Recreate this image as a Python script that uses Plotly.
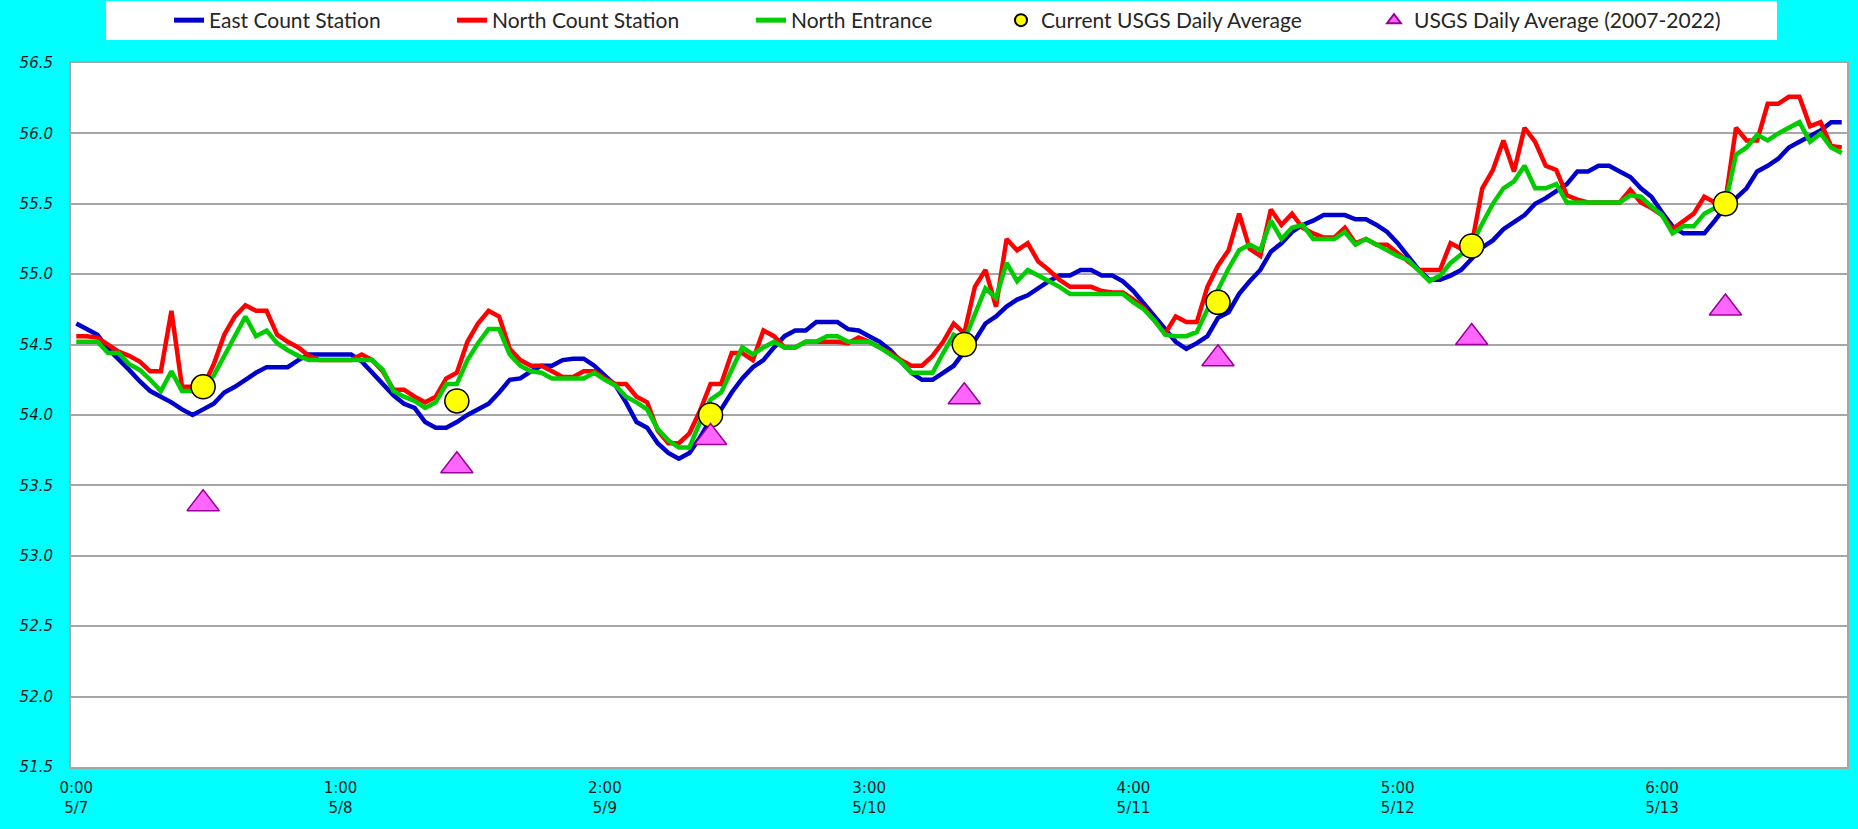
import plotly.graph_objects as go

# ---------------- data (hourly, 5/7 0:00 .. 5/13 23:00) ----------------
hours = list(range(168))

east_count = [
    54.65, 54.61, 54.57, 54.47, 54.40, 54.32, 54.24, 54.17, 54.13, 54.09, 54.04, 54.00,
    54.04, 54.08, 54.16, 54.20, 54.25, 54.30, 54.34, 54.34, 54.34, 54.39, 54.43, 54.43,
    54.43, 54.43, 54.43, 54.38, 54.30, 54.22, 54.14, 54.08, 54.05, 53.95, 53.91, 53.91,
    53.95, 54.00, 54.04, 54.08, 54.16, 54.25,
    54.26, 54.31, 54.35, 54.35, 54.39, 54.40, 54.40, 54.35, 54.28, 54.21, 54.09, 53.95,
    53.91, 53.80, 53.73, 53.69, 53.73, 53.84, 53.97, 54.04, 54.16, 54.26, 54.34, 54.39,
    54.48, 54.56, 54.60, 54.60, 54.66, 54.66, 54.66, 54.61, 54.60, 54.56, 54.52, 54.46,
    54.38, 54.30, 54.25, 54.25, 54.30, 54.35,
    54.45, 54.53, 54.65, 54.70, 54.77, 54.82, 54.85, 54.90, 54.95, 54.99, 54.99, 55.03,
    55.03, 54.99, 54.99, 54.95, 54.88, 54.79, 54.70, 54.60, 54.52, 54.47, 54.51, 54.56,
    54.69, 54.73, 54.86, 54.95, 55.03, 55.16, 55.22, 55.30, 55.35, 55.38, 55.42, 55.42,
    55.42, 55.39, 55.39, 55.35, 55.30, 55.22,
    55.12, 55.03, 54.96, 54.96, 54.99, 55.03, 55.11, 55.19, 55.24, 55.32, 55.37, 55.42,
    55.50, 55.54, 55.59, 55.64, 55.73, 55.73, 55.77, 55.77, 55.73, 55.69, 55.61, 55.55,
    55.44, 55.34, 55.29, 55.29, 55.29, 55.38, 55.48, 55.54, 55.61, 55.73, 55.77, 55.82,
    55.90, 55.94, 55.98, 56.02, 56.08, 56.08,
]

north_count = [
    54.56, 54.56, 54.55, 54.50, 54.45, 54.42, 54.38, 54.31, 54.31, 54.74, 54.20, 54.20,
    54.20, 54.36, 54.57, 54.70, 54.78, 54.74, 54.74, 54.57, 54.52, 54.48, 54.42, 54.39,
    54.39, 54.39, 54.39, 54.43, 54.39, 54.31, 54.18, 54.18, 54.13, 54.09, 54.13, 54.26,
    54.30, 54.52, 54.65, 54.74, 54.70, 54.47,
    54.39, 54.35, 54.35, 54.31, 54.27, 54.27, 54.31, 54.31, 54.26, 54.22, 54.22, 54.13,
    54.09, 53.89, 53.80, 53.80, 53.87, 54.03, 54.22, 54.22, 54.44, 54.44, 54.39, 54.60,
    54.56, 54.48, 54.48, 54.52, 54.52, 54.52, 54.52, 54.51, 54.55, 54.52, 54.48, 54.44,
    54.39, 54.35, 54.35, 54.42, 54.52, 54.65,
    54.58, 54.91, 55.03, 54.77, 55.25, 55.17, 55.22, 55.09, 55.03, 54.96, 54.91, 54.91,
    54.91, 54.88, 54.87, 54.87, 54.82, 54.76, 54.67, 54.58, 54.70, 54.66, 54.66, 54.91,
    55.06, 55.17, 55.43, 55.18, 55.13, 55.46, 55.35, 55.43, 55.33, 55.29, 55.26, 55.26,
    55.33, 55.22, 55.25, 55.21, 55.21, 55.15,
    55.10, 55.03, 55.03, 55.03, 55.22, 55.18, 55.21, 55.61, 55.74, 55.95, 55.73, 56.04,
    55.94, 55.77, 55.74, 55.56, 55.53, 55.51, 55.51, 55.51, 55.51, 55.60, 55.51, 55.47,
    55.42, 55.32, 55.38, 55.43, 55.55, 55.51, 55.52, 56.04, 55.95, 55.95, 56.21, 56.21,
    56.26, 56.26, 56.05, 56.08, 55.91, 55.90,
]

north_entrance = [
    54.52, 54.52, 54.52, 54.44, 54.44, 54.36, 54.32, 54.25, 54.17, 54.31, 54.17, 54.17,
    54.20, 54.28, 54.42, 54.56, 54.70, 54.56, 54.60, 54.51, 54.46, 54.42, 54.39, 54.39,
    54.39, 54.39, 54.39, 54.39, 54.39, 54.32, 54.17, 54.13, 54.10, 54.05, 54.09, 54.22,
    54.22, 54.39, 54.51, 54.61, 54.61, 54.43,
    54.35, 54.31, 54.30, 54.26, 54.26, 54.26, 54.26, 54.30, 54.25, 54.21, 54.13, 54.09,
    54.04, 53.90, 53.82, 53.77, 53.77, 53.95, 54.11, 54.16, 54.32, 54.48, 54.43, 54.48,
    54.52, 54.48, 54.48, 54.52, 54.52, 54.56, 54.56, 54.52, 54.52, 54.52, 54.48, 54.43,
    54.38, 54.30, 54.30, 54.30, 54.44, 54.57,
    54.53, 54.72, 54.90, 54.83, 55.08, 54.95, 55.03, 54.99, 54.95, 54.91, 54.86, 54.86,
    54.86, 54.86, 54.86, 54.86, 54.80, 54.75, 54.67, 54.57, 54.56, 54.56, 54.59, 54.75,
    54.89, 55.04, 55.17, 55.21, 55.17, 55.38, 55.25, 55.33, 55.35, 55.25, 55.25, 55.25,
    55.30, 55.21, 55.25, 55.21, 55.17, 55.13,
    55.10, 55.03, 54.95, 54.99, 55.08, 55.14, 55.21, 55.36, 55.50, 55.61, 55.66, 55.77,
    55.61, 55.61, 55.64, 55.51, 55.51, 55.51, 55.51, 55.51, 55.51, 55.56, 55.55, 55.48,
    55.42, 55.29, 55.34, 55.34, 55.43, 55.47, 55.50, 55.85, 55.90, 55.99, 55.95, 56.00,
    56.04, 56.08, 55.94, 56.00, 55.90, 55.86,
]

daily_hours = [12, 36, 60, 84, 108, 132, 156]
current_usgs = [54.2, 54.1, 54.0, 54.5, 54.8, 55.2, 55.5]
usgs_hist = [53.37, 53.64, 53.84, 54.13, 54.40, 54.55, 54.76]

tick_hours = [0, 25, 50, 75, 100, 125, 150]
tick_labels = ["0:00<br>5/7", "1:00<br>5/8", "2:00<br>5/9", "3:00<br>5/10",
               "4:00<br>5/11", "5:00<br>5/12", "6:00<br>5/13"]

# ---------------- figure ----------------
W, H = 1858, 829
L, R, T, B = 71, 1847, 63, 767
pw, ph = R - L, B - T

def px_x(p):
    return (p - L) / pw

def px_y(p):
    return 1 + (T - p) / ph

fig = go.Figure()
fig.add_trace(go.Scatter(x=hours, y=east_count, mode="lines", name="East Count Station",
                         line=dict(color="#0000CC", width=4.5), legend="legend"))
fig.add_trace(go.Scatter(x=hours, y=north_count, mode="lines", name="North Count Station",
                         line=dict(color="#FF0000", width=4.5), legend="legend2"))
fig.add_trace(go.Scatter(x=hours, y=north_entrance, mode="lines", name="North Entrance",
                         line=dict(color="#00CC00", width=4.5), legend="legend3"))
fig.add_trace(go.Scatter(x=daily_hours, y=current_usgs, mode="markers",
                         name="Current USGS Daily Average",
                         marker=dict(symbol="circle", size=24, color="#FFFF00",
                                     line=dict(color="#000000", width=1.5)),
                         legend="legend4"))
fig.add_trace(go.Scatter(x=daily_hours, y=usgs_hist, mode="markers",
                         name="USGS Daily Average (2007-2022)",
                         marker=dict(symbol="triangle-up", size=28, color="#FF66FF",
                                     line=dict(color="#990099", width=1.5)),
                         legend="legend5"))

legend_font = dict(family="Lato, Noto Sans, sans-serif", size=21, color="#262626")
text_starts = [209, 492, 791, 1041, 1414]
legend_y = px_y(20.5)
legends = {}
for i, ts in enumerate(text_starts):
    key = "legend" if i == 0 else f"legend{i+1}"
    legends[key] = dict(x=px_x(ts - 40), y=legend_y, xanchor="left", yanchor="middle",
                        bgcolor="rgba(0,0,0,0)", borderwidth=0, font=legend_font,
                        itemsizing="constant", orientation="h")

fig.update_layout(
    width=W, height=H,
    margin=dict(l=L, r=W - R, t=T, b=H - B, pad=0, autoexpand=False),
    paper_bgcolor="#00FFFF",
    plot_bgcolor="#FFFFFF",
    showlegend=True,
    **legends,
    shapes=[dict(type="rect", xref="paper", yref="paper",
                 x0=px_x(106), x1=px_x(1777), y0=px_y(40), y1=px_y(1),
                 fillcolor="#FFFFFF", line=dict(width=0), layer="above")],
    xaxis=dict(range=[-0.5, 167.5], tickmode="array", tickvals=tick_hours,
               ticktext=tick_labels, showgrid=False, zeroline=False,
               showline=True, mirror=True, linecolor="#A6A6A6", linewidth=2,
               ticks="", ticklabelstandoff=6,
               tickfont=dict(family="DejaVu Sans", size=15, color="#1A1A1A")),
    yaxis=dict(range=[51.5, 56.5], dtick=0.5, tick0=51.5, tickformat=".1f",
               showgrid=True, gridcolor="#A6A6A6", gridwidth=2, zeroline=False,
               showline=True, mirror=True, linecolor="#A6A6A6", linewidth=2,
               ticks="", ticklabelstandoff=13,
               tickfont=dict(family="DejaVu Sans", size=15, color="#1A1A1A",
                             style="italic")),
)

fig.write_html(
    "out.html",
    config={"displayModeBar": False},
    post_script="document.body.style.margin='0';document.body.style.padding='0';"
                "document.body.style.overflow='hidden';",
)
